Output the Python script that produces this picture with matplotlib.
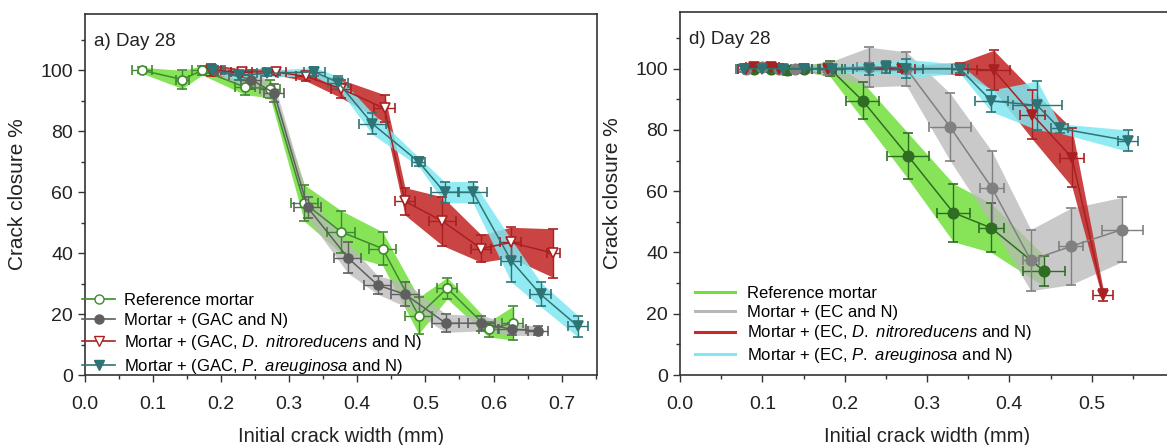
import matplotlib.pyplot as plt
from matplotlib.lines import Line2D
from matplotlib.ticker import MultipleLocator
import numpy as np

plt.rcParams["font.family"] = ["Liberation Sans", "DejaVu Sans"]
plt.rcParams["mathtext.fontset"] = "custom"
plt.rcParams["mathtext.it"] = "Liberation Sans:italic"
plt.rcParams["mathtext.rm"] = "Liberation Sans"

# ========= DATA: panel a (GAC) =========
ref_a_x = [0.084, 0.143, 0.172, 0.235, 0.272, 0.322, 0.376, 0.437, 0.490, 0.532, 0.593, 0.628]
ref_a_y = [100, 97, 100, 94.5, 94, 56.5, 47, 41.5, 19.5, 28.5, 15, 17]
ref_a_yerr = [1, 3, 1.5, 2.5, 3, 6, 7, 5.5, 6, 3.5, 2.5, 5.5]
ref_a_xerr = [0.015, 0.01, 0.015, 0.015, 0.015, 0.02, 0.02, 0.02, 0.02, 0.015, 0.015, 0.015]

gac_a_x = [0.190, 0.244, 0.278, 0.327, 0.386, 0.430, 0.470, 0.530, 0.582, 0.627, 0.665]
gac_a_y = [100, 97, 92.5, 55, 38.5, 29.5, 26.5, 17, 17, 15, 14.5]
gac_a_yerr = [1.5, 3, 3, 3.5, 5, 3, 4, 3, 2.5, 2, 1.5]
gac_a_xerr = [0.015, 0.015, 0.015, 0.02, 0.02, 0.02, 0.02, 0.02, 0.02, 0.02, 0.015]

dn_a_x = [0.185, 0.230, 0.280, 0.325, 0.376, 0.440, 0.470, 0.525, 0.582, 0.625, 0.688]
dn_a_y = [100, 99.5, 99.5, 98, 94, 87.5, 57, 50.5, 41.5, 43.5, 40]
dn_a_yerr = [2, 1, 1, 1.5, 3, 4.5, 4.5, 8, 4.5, 5, 8]
dn_a_xerr = [0.015, 0.015, 0.015, 0.015, 0.015, 0.015, 0.015, 0.02, 0.015, 0.015, 0.01]

pa_a_x = [0.187, 0.226, 0.268, 0.337, 0.372, 0.422, 0.490, 0.528, 0.570, 0.626, 0.669, 0.724]
pa_a_y = [100, 98.5, 99, 99.5, 96, 82.5, 70, 60, 60, 37.5, 26.5, 16]
pa_a_yerr = [1, 1.5, 1, 1.5, 2, 3.5, 1.5, 3.5, 3.5, 7, 4, 3.5]
pa_a_xerr = [0.015, 0.015, 0.015, 0.015, 0.015, 0.02, 0.01, 0.02, 0.02, 0.015, 0.015, 0.015]

# ========= DATA: panel d (EC) =========
ref_d_x = [0.090, 0.110, 0.130, 0.150, 0.182, 0.222, 0.277, 0.332, 0.378, 0.442]
ref_d_y = [100, 100, 99.5, 100, 100, 89.5, 71.5, 53, 48, 34]
ref_d_yerr = [1, 1, 1.5, 1, 2.5, 6, 7.5, 9.5, 8, 5]
ref_d_xerr = [0.01, 0.01, 0.01, 0.01, 0.015, 0.02, 0.025, 0.02, 0.015, 0.025]

ec_d_x = [0.080, 0.100, 0.120, 0.140, 0.180, 0.230, 0.275, 0.328, 0.379, 0.426, 0.475, 0.537]
ec_d_y = [100, 100.5, 100, 100, 100, 100.5, 100, 81, 61, 37.5, 42, 47.5]
ec_d_yerr = [1, 1, 1, 1, 2, 6.5, 5.5, 11, 12, 10, 12.5, 10.5]
ec_d_xerr = [0.01, 0.01, 0.01, 0.01, 0.01, 0.015, 0.02, 0.025, 0.015, 0.01, 0.015, 0.025]

dn_d_x = [0.080, 0.090, 0.110, 0.120, 0.150, 0.180, 0.270, 0.340, 0.381, 0.428, 0.476, 0.514]
dn_d_y = [100, 100.5, 100.5, 100, 100, 100, 100, 100, 99.5, 85, 71, 26]
dn_d_yerr = [1, 1, 1.5, 1.5, 1, 1, 1, 2, 6.5, 8, 9.5, 2]
dn_d_xerr = [0.01, 0.01, 0.01, 0.01, 0.01, 0.01, 0.015, 0.01, 0.02, 0.015, 0.015, 0.012]

pa_d_x = [0.078, 0.100, 0.125, 0.150, 0.185, 0.230, 0.250, 0.275, 0.340, 0.378, 0.434, 0.461, 0.544]
pa_d_y = [100, 100, 100, 100, 100, 100, 100.5, 100, 100, 89.5, 88, 80.5, 76.5]
pa_d_yerr = [1, 1, 1, 1, 1, 2, 2, 3, 1.5, 3.5, 8, 1.5, 3.5]
pa_d_xerr = [0.01, 0.01, 0.01, 0.01, 0.015, 0.02, 0.015, 0.02, 0.01, 0.02, 0.03, 0.01, 0.012]

LBL_A = ["Reference mortar",
         "Mortar + (GAC and N)",
         r"Mortar + (GAC, $\it{D.\ nitroreducens}$ and N)",
         r"Mortar + (GAC, $\it{P.\ areuginosa}$ and N)"]
LBL_D = ["Reference mortar",
         "Mortar + (EC and N)",
         r"Mortar + (EC, $\it{D.\ nitroreducens}$ and N)",
         r"Mortar + (EC, $\it{P.\ areuginosa}$ and N)"]

# ---- styles ----
BAND = ["#72e03c", "#b8b8b8", "#c42a2a", "#7fe8f2"]
BAND_ALPHA = [0.85, 0.75, 0.88, 0.85]
LINE_A = ["#3f8a2e", "#5f5f5f", "#a82020", "#2f7474"]
LINE_D = ["#2f6e22", "#808080", "#a82020", "#2f7474"]


def draw_series(ax, x, y, yerr, xerr, band, band_alpha, line, marker, mfc, ms):
    x = np.array(x)
    y = np.array(y)
    yerr = np.array(yerr)
    ax.fill_between(x, y - yerr, y + yerr, color=band, alpha=band_alpha,
                    linewidth=0, zorder=1)
    ax.errorbar(x, y, yerr=yerr, xerr=xerr, color=line, linewidth=1.1,
                elinewidth=1.0, capsize=3.5, capthick=1.0, marker=marker,
                markersize=ms, markerfacecolor=mfc, markeredgecolor=line,
                markeredgewidth=1.2, zorder=3)


def style_axes(ax, xmax, xticks, title):
    ax.set_xlim(0, xmax)
    ax.set_ylim(0, 118.5)
    ax.set_xticks(xticks)
    ax.xaxis.set_minor_locator(MultipleLocator(0.05))
    ax.set_yticks([0, 20, 40, 60, 80, 100])
    ax.yaxis.set_minor_locator(MultipleLocator(10))
    ax.xaxis.set_major_formatter(plt.FuncFormatter(lambda v, p: f"{v:.1f}"))
    ax.tick_params(which="major", direction="out", length=5, width=1.0,
                   labelsize=14, colors="#333333", labelcolor="#222222")
    ax.tick_params(which="minor", direction="out", length=3, width=1.0, colors="#333333")
    ax.tick_params(axis="x", pad=10)
    for s in ax.spines.values():
        s.set_color("#333333")
        s.set_linewidth(1.2)
    ax.set_xlabel("Initial crack width (mm)", fontsize=14.5, labelpad=10, color="#222222")
    ax.set_ylabel("Crack closure %", fontsize=15, labelpad=10, color="#222222")
    ax.text(0.018, 0.925, title, transform=ax.transAxes, fontsize=13.5,
            ha="left", va="center", color="#222222")


fig = plt.figure(figsize=(11.67, 4.45), dpi=100)
ax1 = fig.add_axes([0.0728, 0.1573, 0.4388, 0.8112])
ax2 = fig.add_axes([0.5827, 0.1573, 0.4233, 0.8157])

# ---- panel a ----
series_a = [
    (ref_a_x, ref_a_y, ref_a_yerr, ref_a_xerr, "o", "white", 6.5),
    (gac_a_x, gac_a_y, gac_a_yerr, gac_a_xerr, "o", LINE_A[1], 6.5),
    (dn_a_x, dn_a_y, dn_a_yerr, dn_a_xerr, "v", "white", 6.5),
    (pa_a_x, pa_a_y, pa_a_yerr, pa_a_xerr, "v", LINE_A[3], 6.5),
]
for i, (x, y, ye, xe, m, mfc, ms) in enumerate(series_a):
    draw_series(ax1, x, y, ye, xe, BAND[i], BAND_ALPHA[i], LINE_A[i], m, mfc, ms)

style_axes(ax1, 0.752, [0, 0.1, 0.2, 0.3, 0.4, 0.5, 0.6, 0.7], "a) Day 28")
handles_a = [Line2D([0], [0], color=LINE_A[i], marker=series_a[i][4],
                    markerfacecolor=series_a[i][5], markeredgecolor=LINE_A[i],
                    markersize=6.5, linewidth=1.2) for i in range(4)]
ax1.legend(handles_a, LBL_A, loc="lower left", bbox_to_anchor=(-0.025, -0.03),
           frameon=False, fontsize=12, handlelength=2.0, handletextpad=0.5,
           labelspacing=0.3, borderaxespad=0.2)

# ---- panel d ----
series_d = [
    (ref_d_x, ref_d_y, ref_d_yerr, ref_d_xerr, "o", LINE_D[0], 7.5),
    (ec_d_x, ec_d_y, ec_d_yerr, ec_d_xerr, "o", LINE_D[1], 7.5),
    (dn_d_x, dn_d_y, dn_d_yerr, dn_d_xerr, "v", LINE_D[2], 6.5),
    (pa_d_x, pa_d_y, pa_d_yerr, pa_d_xerr, "v", LINE_D[3], 6.5),
]
for i, (x, y, ye, xe, m, mfc, ms) in enumerate(series_d):
    draw_series(ax2, x, y, ye, xe, BAND[i], BAND_ALPHA[i], LINE_D[i], m, mfc, ms)

style_axes(ax2, 0.6, [0, 0.1, 0.2, 0.3, 0.4, 0.5], "d) Day 28")
handles_d = [Line2D([0], [0], color=BAND[i], linewidth=2.2) for i in range(4)]
ax2.legend(handles_d, LBL_D, loc="lower left", bbox_to_anchor=(0.01, 0.0),
           frameon=False, fontsize=12, handlelength=2.4, handletextpad=0.7,
           labelspacing=0.22, borderaxespad=0.2)

fig.savefig("out.png", dpi=100)
